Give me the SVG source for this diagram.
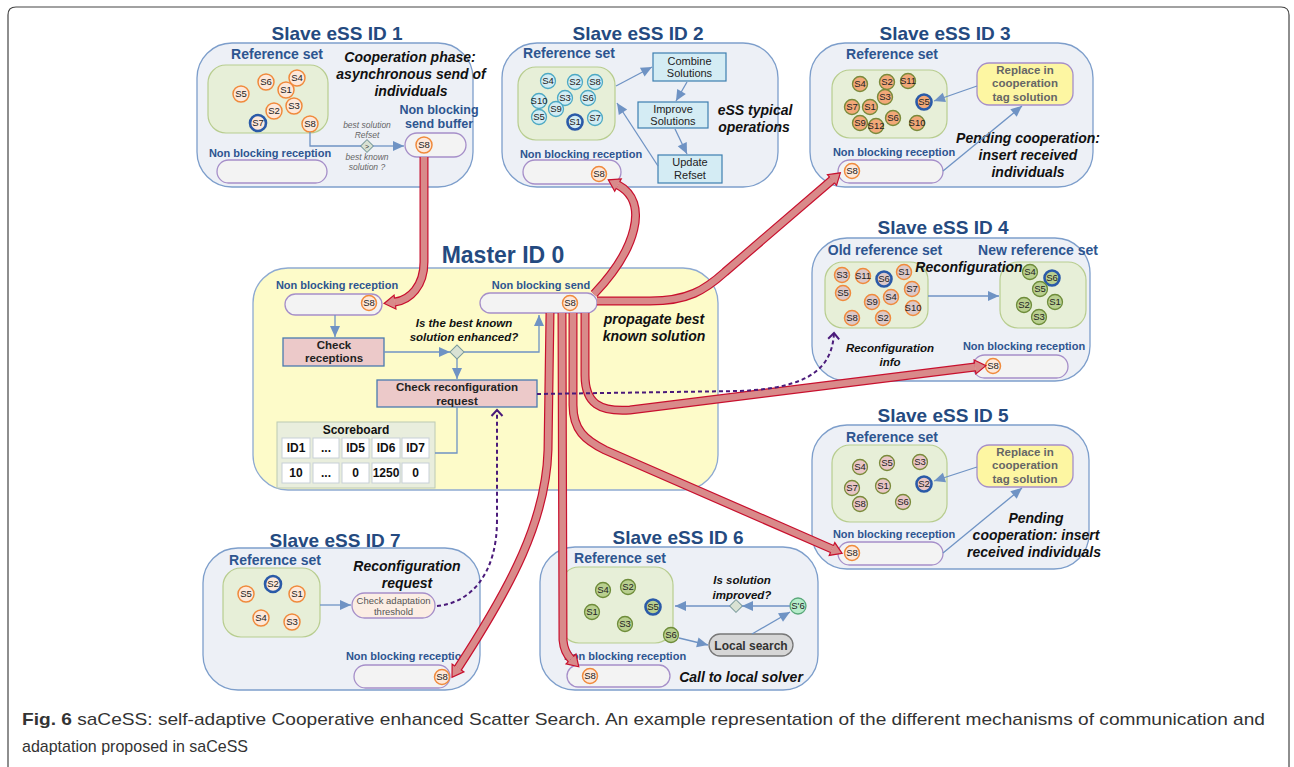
<svg xmlns="http://www.w3.org/2000/svg" width="1294" height="767" viewBox="0 0 1294 767">
<defs>
<marker id="tubeHead" markerUnits="userSpaceOnUse" markerWidth="16" markerHeight="18" viewBox="-2 -9 16 18" refX="0" refY="0" orient="auto" overflow="visible">
<path d="M0,-7 L11,0 L0,7 Z" fill="#d98a8a"/>
<path d="M0,-3.4 L0,-7 L11,0 L0,7 L0,3.4" fill="none" stroke="#c8102e" stroke-width="1.2"/>
</marker>
<marker id="chev" markerUnits="userSpaceOnUse" markerWidth="10" markerHeight="14" viewBox="-8 -7 10 14" refX="0" refY="0" orient="auto" overflow="visible">
<path d="M-6,-5.5 L0,0 L-6,5.5" fill="none" stroke="#4a1a7a" stroke-width="2"/>
</marker>
<marker id="tri" markerUnits="userSpaceOnUse" markerWidth="12" markerHeight="10" viewBox="-11 -5 12 10" refX="0" refY="0" orient="auto" overflow="visible">
<path d="M-11,-5 L0,0 L-11,5 Z" fill="#6f93c4"/>
</marker>
</defs>
<style>
text{font-family:"Liberation Sans",Arial,sans-serif}
.title{font-size:19px;font-weight:bold;fill:#244a80;text-anchor:middle}
.mtitle{font-size:23px;font-weight:bold;fill:#244a80;text-anchor:middle}
.lbl{font-size:14px;font-weight:bold;fill:#2d5590;text-anchor:middle}
.nb{font-size:11px;font-weight:bold;fill:#2d5590;text-anchor:middle}
.it{font-size:14px;font-weight:bold;font-style:italic;fill:#111;text-anchor:middle}
.its{font-size:11.5px;font-weight:bold;font-style:italic;fill:#111;text-anchor:middle}
.tiny{font-size:8.5px;font-style:italic;fill:#666;text-anchor:middle}
.slave{fill:#edf0f6;stroke:#7d9ecb;stroke-width:1.3}
.ref{fill:#e7efd8;stroke:#b8cd8f;stroke-width:1.2}
.pill{fill:#f3f3f3;stroke:#a68fc9;stroke-width:1.3}
.st{font-size:9.5px;fill:#222;text-anchor:middle}
.or{fill:#fde8da;stroke:#f08a3c;stroke-width:1.5}
.cy{fill:#d2ecf3;stroke:#4da9c4;stroke-width:1.3}
.dk{fill:#f2a878;stroke:#7a8a3a;stroke-width:1.4}
.pk{fill:#ddc9c9;stroke:#f08a3c;stroke-width:1.5}
.gr{fill:#b9cf8f;stroke:#6e8c3a;stroke-width:1.3}
.pr{fill:#e9c6c6;stroke:#7a8a3a;stroke-width:1.3}
.lg{fill:#b6ecca;stroke:#5aa87a;stroke-width:1.3}
.hl{stroke:#2a5aa8;stroke-width:2.6}
.box{fill:#d4ecf4;stroke:#3c7fb0;stroke-width:1.2}
.bt{font-size:11px;fill:#222;text-anchor:middle}
.yel{fill:#fdf6a2;stroke:#a68fc9;stroke-width:1.3}
.yt{font-size:11.5px;font-weight:bold;fill:#666;text-anchor:middle}
.pbox{fill:#ecc9c9;stroke:#4a7ab0;stroke-width:1.3}
.pt{font-size:11.5px;font-weight:bold;fill:#222;text-anchor:middle}
.dia{fill:#d9e2d3;stroke:#7a9a9a;stroke-width:1}
.cell{fill:#ffffff;stroke:#c8d0d8;stroke-width:1}
.ct{font-size:12px;font-weight:bold;fill:#111;text-anchor:middle}
.ln{fill:none;stroke:#6f93c4;stroke-width:1.3}
.tube-o{fill:none;stroke:#c8102e;stroke-width:9}
.tube-i{fill:none;stroke:#d98a8a;stroke-width:6.6}
.dash{fill:none;stroke:#4a1a7a;stroke-width:2;stroke-dasharray:4 3}
.cap{font-size:17px;fill:#333}
</style>

<path d="M8,767 L8,15 Q8,7 16,7 L1281,7 Q1289,7 1289,15 L1289,767" fill="none" stroke="#444" stroke-width="1.2"/>

<!-- Slave 1 -->
<g id="slave1">
<text class="title" x="337" y="40">Slave eSS ID 1</text>
<rect class="slave" x="197" y="43" width="276" height="144" rx="35"/>
<text class="lbl" x="277" y="59">Reference set</text>
<rect class="ref" x="208" y="65" width="120" height="68" rx="18"/>
<g>
<circle class="or" cx="266" cy="82" r="8"/><text class="st" x="266" y="85.3">S6</text>
<circle class="or" cx="297" cy="78" r="8"/><text class="st" x="297" y="81.3">S4</text>
<circle class="or" cx="241" cy="94" r="8"/><text class="st" x="241" y="97.3">S5</text>
<circle class="or" cx="286" cy="90" r="8"/><text class="st" x="286" y="93.3">S1</text>
<circle class="or" cx="274" cy="111" r="8"/><text class="st" x="274" y="114.3">S2</text>
<circle class="or" cx="294" cy="106" r="8"/><text class="st" x="294" y="109.3">S3</text>
<circle class="or hl" cx="258" cy="123" r="8"/><text class="st" x="258" y="126.3">S7</text>
<circle class="or" cx="310" cy="124" r="8"/><text class="st" x="310" y="127.3">S8</text>
</g>
<text class="it" x="410" y="62">Cooperation phase:</text>
<text class="it" x="411" y="79">asynchronous send of</text>
<text class="it" x="411" y="96">individuals</text>
<text class="lbl" x="439" y="114" style="font-size:12.5px">Non blocking</text>
<text class="lbl" x="439" y="128" style="font-size:12.5px">send buffer</text>
<rect class="pill" x="405" y="133" width="61" height="24" rx="12"/>
<circle class="or" cx="424" cy="145" r="8"/><text class="st" x="424" y="148.3">S8</text>
<text class="tiny" x="367" y="128">best solution</text>
<text class="tiny" x="367" y="138">Refset</text>
<rect class="dia" x="362.5" y="141.5" width="9" height="9" transform="rotate(45 367 146)"/>
<text x="367" y="148.5" style="font-size:7px;fill:#333;text-anchor:middle">&gt;</text>
<text class="tiny" x="367" y="160">best known</text>
<text class="tiny" x="367" y="170">solution ?</text>
<text class="nb" x="270" y="157">Non blocking reception</text>
<rect class="pill" x="217" y="160" width="110" height="23" rx="11.5"/>
</g>

<!-- Slave 2 -->
<g id="slave2">
<text class="title" x="638" y="40">Slave eSS ID 2</text>
<rect class="slave" x="502" y="43" width="276" height="144" rx="35"/>
<text class="lbl" x="569" y="58">Reference set</text>
<rect class="ref" x="518" y="67" width="97" height="73" rx="18"/>
<g>
<circle class="cy" cx="548" cy="81" r="7.5"/><text class="st" x="548" y="84.3">S4</text>
<circle class="cy" cx="575" cy="82" r="7.5"/><text class="st" x="575" y="85.3">S2</text>
<circle class="cy" cx="595" cy="82" r="7.5"/><text class="st" x="595" y="85.3">S8</text>
<circle class="cy" cx="539" cy="101" r="7.5"/><text class="st" x="539" y="104.3">S10</text>
<circle class="cy" cx="565" cy="98" r="7.5"/><text class="st" x="565" y="101.3">S3</text>
<circle class="cy" cx="588" cy="98" r="7.5"/><text class="st" x="588" y="101.3">S6</text>
<circle class="cy" cx="556" cy="109" r="7.5"/><text class="st" x="556" y="112.3">S9</text>
<circle class="cy" cx="539" cy="117" r="7.5"/><text class="st" x="539" y="120.3">S5</text>
<circle class="cy hl" cx="575" cy="122" r="7.5"/><text class="st" x="575" y="125.3">S1</text>
<circle class="cy" cx="595" cy="118" r="7.5"/><text class="st" x="595" y="121.3">S7</text>
</g>
<rect class="box" x="653" y="53" width="73" height="28"/>
<text class="bt" x="689.5" y="64.5">Combine</text>
<text class="bt" x="689.5" y="77">Solutions</text>
<rect class="box" x="638" y="102" width="70" height="26"/>
<text class="bt" x="673" y="113">Improve</text>
<text class="bt" x="673" y="125">Solutions</text>
<rect class="box" x="658" y="155" width="64" height="28"/>
<text class="bt" x="690" y="166">Update</text>
<text class="bt" x="690" y="179">Refset</text>
<text class="it" x="755" y="115">eSS typical</text>
<text class="it" x="754" y="132">operations</text>
<text class="nb" x="581" y="158">Non blocking reception</text>
<rect class="pill" x="523" y="160" width="98" height="24" rx="12"/>
<circle class="or" cx="599" cy="174" r="7.5"/><text class="st" x="599" y="177.3">S8</text>
</g>

<!-- Slave 3 -->
<g id="slave3">
<text class="title" x="945" y="40">Slave eSS ID 3</text>
<rect class="slave" x="810" y="43" width="283" height="144" rx="35"/>
<text class="lbl" x="892" y="59">Reference set</text>
<rect class="ref" x="832" y="70" width="115" height="68" rx="18"/>
<g>
<circle class="dk" cx="860" cy="84" r="7.5"/><text class="st" x="860" y="87.3">S4</text>
<circle class="dk" cx="887" cy="82" r="7.5"/><text class="st" x="887" y="85.3">S2</text>
<circle class="dk" cx="908" cy="81" r="7.5"/><text class="st" x="908" y="84.3">S11</text>
<circle class="dk" cx="885" cy="97" r="7.5"/><text class="st" x="885" y="100.3">S3</text>
<circle class="dk" cx="852" cy="107" r="7.5"/><text class="st" x="852" y="110.3">S7</text>
<circle class="dk" cx="870" cy="107" r="7.5"/><text class="st" x="870" y="110.3">S1</text>
<circle class="dk hl" cx="924" cy="102" r="7.5"/><text class="st" x="924" y="105.3">S5</text>
<circle class="dk" cx="860" cy="123" r="7.5"/><text class="st" x="860" y="126.3">S9</text>
<circle class="dk" cx="876" cy="126" r="7.5"/><text class="st" x="876" y="129.3">S12</text>
<circle class="dk" cx="893" cy="118" r="7.5"/><text class="st" x="893" y="121.3">S6</text>
<circle class="dk" cx="917" cy="123" r="7.5"/><text class="st" x="917" y="126.3">S10</text>
</g>
<rect class="yel" x="977" y="63" width="96" height="42" rx="12"/>
<text class="yt" x="1025" y="74">Replace in</text>
<text class="yt" x="1025" y="87">cooperation</text>
<text class="yt" x="1025" y="101">tag solution</text>
<text class="it" x="1028" y="143">Pending cooperation:</text>
<text class="it" x="1028" y="160">insert received</text>
<text class="it" x="1028" y="177">individuals</text>
<text class="nb" x="894" y="156">Non blocking reception</text>
<rect class="pill" x="838" y="160" width="105" height="23" rx="11.5"/>
<circle class="or" cx="852" cy="171" r="7.5"/><text class="st" x="852" y="174.3">S8</text>
</g>

<!-- Slave 4 -->
<g id="slave4">
<text class="title" x="943" y="234">Slave eSS ID 4</text>
<rect class="slave" x="812" y="238" width="278" height="143" rx="35"/>
<text class="lbl" x="885" y="255">Old reference set</text>
<text class="lbl" x="1038" y="255">New reference set</text>
<rect class="ref" x="825" y="262" width="103" height="66" rx="18"/>
<rect class="ref" x="1000" y="262" width="86" height="66" rx="18"/>
<g>
<circle class="pk" cx="842" cy="275" r="7.5"/><text class="st" x="842" y="278.3">S3</text>
<circle class="pk" cx="863" cy="276" r="7.5"/><text class="st" x="863" y="279.3">S11</text>
<circle class="pk hl" cx="884" cy="279" r="7.5"/><text class="st" x="884" y="282.3">S6</text>
<circle class="pk" cx="904" cy="272" r="7.5"/><text class="st" x="904" y="275.3">S1</text>
<circle class="pk" cx="843" cy="293" r="7.5"/><text class="st" x="843" y="296.3">S5</text>
<circle class="pk" cx="912" cy="289" r="7.5"/><text class="st" x="912" y="292.3">S7</text>
<circle class="pk" cx="872" cy="302" r="7.5"/><text class="st" x="872" y="305.3">S9</text>
<circle class="pk" cx="891" cy="297" r="7.5"/><text class="st" x="891" y="300.3">S4</text>
<circle class="pk" cx="913" cy="308" r="7.5"/><text class="st" x="913" y="311.3">S10</text>
<circle class="pk" cx="852" cy="318" r="7.5"/><text class="st" x="852" y="321.3">S8</text>
<circle class="pk" cx="883" cy="318" r="7.5"/><text class="st" x="883" y="321.3">S2</text>
</g>
<g>
<circle class="gr" cx="1030" cy="272" r="7.5"/><text class="st" x="1030" y="275.3">S4</text>
<circle class="gr hl" cx="1052" cy="278" r="7.5"/><text class="st" x="1052" y="281.3">S6</text>
<circle class="gr" cx="1040" cy="289" r="7.5"/><text class="st" x="1040" y="292.3">S5</text>
<circle class="gr" cx="1024" cy="305" r="7.5"/><text class="st" x="1024" y="308.3">S2</text>
<circle class="gr" cx="1055" cy="302" r="7.5"/><text class="st" x="1055" y="305.3">S1</text>
<circle class="gr" cx="1039" cy="317" r="7.5"/><text class="st" x="1039" y="320.3">S3</text>
</g>
<text class="it" x="969" y="272">Reconfiguration</text>
<text class="its" x="890" y="352">Reconfiguration</text>
<text class="its" x="890" y="366">info</text>
<text class="nb" x="1024" y="350">Non blocking reception</text>
<rect class="pill" x="973" y="355" width="95" height="23" rx="11.5"/>
<circle class="or" cx="993" cy="366" r="7.5"/><text class="st" x="993" y="369.3">S8</text>
</g>

<!-- Slave 5 -->
<g id="slave5">
<text class="title" x="943" y="422">Slave eSS ID 5</text>
<rect class="slave" x="812" y="425" width="277" height="144" rx="35"/>
<text class="lbl" x="892" y="442">Reference set</text>
<rect class="ref" x="832" y="445" width="115" height="77" rx="18"/>
<g>
<circle class="pr" cx="860" cy="467" r="7.5"/><text class="st" x="860" y="470.3">S4</text>
<circle class="pr" cx="887" cy="463" r="7.5"/><text class="st" x="887" y="466.3">S5</text>
<circle class="pr" cx="920" cy="462" r="7.5"/><text class="st" x="920" y="465.3">S3</text>
<circle class="pr" cx="852" cy="488" r="7.5"/><text class="st" x="852" y="491.3">S7</text>
<circle class="pr" cx="883" cy="486" r="7.5"/><text class="st" x="883" y="489.3">S1</text>
<circle class="pr hl" cx="924" cy="484" r="7.5"/><text class="st" x="924" y="487.3">S2</text>
<circle class="pr" cx="860" cy="504" r="7.5"/><text class="st" x="860" y="507.3">S8</text>
<circle class="pr" cx="903" cy="502" r="7.5"/><text class="st" x="903" y="505.3">S6</text>
</g>
<rect class="yel" x="977" y="445" width="96" height="42" rx="12"/>
<text class="yt" x="1025" y="456">Replace in</text>
<text class="yt" x="1025" y="469">cooperation</text>
<text class="yt" x="1025" y="483">tag solution</text>
<text class="it" x="1036" y="523">Pending</text>
<text class="it" x="1036" y="540">cooperation: insert</text>
<text class="it" x="1034" y="557">received individuals</text>
<text class="nb" x="894" y="538">Non blocking reception</text>
<rect class="pill" x="838" y="542" width="105" height="23" rx="11.5"/>
<circle class="or" cx="852" cy="553" r="7.5"/><text class="st" x="852" y="556.3">S8</text>
</g>

<!-- Slave 7 -->
<g id="slave7">
<text class="title" x="335" y="547">Slave eSS ID 7</text>
<rect class="slave" x="203" y="548" width="277" height="142" rx="35"/>
<text class="lbl" x="275" y="565">Reference set</text>
<rect class="ref" x="223" y="568" width="97" height="69" rx="18"/>
<g>
<circle class="or hl" cx="273" cy="584" r="8"/><text class="st" x="273" y="587.3">S2</text>
<circle class="or" cx="246" cy="594" r="8"/><text class="st" x="246" y="597.3">S5</text>
<circle class="or" cx="297" cy="594" r="8"/><text class="st" x="297" y="597.3">S1</text>
<circle class="or" cx="261" cy="618" r="8"/><text class="st" x="261" y="621.3">S4</text>
<circle class="or" cx="292" cy="622" r="8"/><text class="st" x="292" y="625.3">S3</text>
</g>
<text class="it" x="407" y="571">Reconfiguration</text>
<text class="it" x="407" y="588">request</text>
<rect x="352" y="593" width="83" height="25" rx="12.5" fill="#fbede4" stroke="#a68fc9" stroke-width="1.3"/>
<text x="393.5" y="604" style="font-size:9.5px;fill:#555;text-anchor:middle">Check adaptation</text>
<text x="393.5" y="615" style="font-size:9.5px;fill:#555;text-anchor:middle">threshold</text>
<text class="nb" x="407" y="660">Non blocking reception</text>
<rect class="pill" x="354" y="665" width="96" height="23" rx="11.5"/>
<circle class="or" cx="442" cy="677" r="7.5"/><text class="st" x="442" y="680.3">S8</text>
</g>

<!-- Slave 6 -->
<g id="slave6">
<text class="title" x="678" y="544">Slave eSS ID 6</text>
<rect class="slave" x="540" y="547" width="278" height="143" rx="35"/>
<text class="lbl" x="620" y="563">Reference set</text>
<rect class="ref" x="561" y="567" width="112" height="76" rx="18"/>
<g>
<circle class="gr" cx="603" cy="590" r="7.5"/><text class="st" x="603" y="593.3">S4</text>
<circle class="gr" cx="628" cy="587" r="7.5"/><text class="st" x="628" y="590.3">S2</text>
<circle class="gr" cx="592" cy="612" r="7.5"/><text class="st" x="592" y="615.3">S1</text>
<circle class="gr hl" cx="653" cy="607" r="7.5"/><text class="st" x="653" y="610.3">S5</text>
<circle class="gr" cx="625" cy="624" r="7.5"/><text class="st" x="625" y="627.3">S3</text>
<circle class="gr" cx="671" cy="635" r="7.5"/><text class="st" x="671" y="638.3">S6</text>
</g>
<circle class="lg" cx="798" cy="606" r="8"/><text class="st" x="798" y="609.3">S'6</text>
<rect class="dia" x="731.5" y="601.5" width="9" height="9" transform="rotate(45 736 606)"/>
<text class="its" x="742" y="584">Is solution</text>
<text class="its" x="742" y="599">improved?</text>
<rect x="709" y="634" width="84" height="22" rx="11" fill="#d6d6d6" stroke="#777" stroke-width="1.3"/>
<text x="751" y="649.5" style="font-size:12px;font-weight:bold;fill:#333;text-anchor:middle">Local search</text>
<text class="nb" x="625" y="660">Non blocking reception</text>
<rect class="pill" x="567" y="665" width="103" height="22" rx="11"/>
<circle class="or" cx="590" cy="676" r="7.5"/><text class="st" x="590" y="679.3">S8</text>
<text class="it" x="741" y="682">Call to local solver</text>
</g>

<!-- Master -->
<g id="master">
<text class="mtitle" x="503" y="263">Master ID 0</text>
<rect x="253" y="268" width="465" height="222" rx="35" fill="#fdfbc9" stroke="#8eaad2" stroke-width="1.3"/>
<text class="nb" x="337" y="289">Non blocking reception</text>
<rect class="pill" x="285" y="294" width="97" height="21" rx="10.5"/>
<circle class="or" cx="369" cy="303" r="7.5"/><text class="st" x="369" y="306.3">S8</text>
<text class="nb" x="541" y="289">Non blocking send</text>
<rect class="pill" x="480" y="293" width="117" height="20" rx="10"/>
<circle class="or" cx="570" cy="303" r="7.5"/><text class="st" x="570" y="306.3">S8</text>
<text class="it" x="654" y="324">propagate best</text>
<text class="it" x="654" y="341">known solution</text>
<text class="its" x="464" y="327">Is the best known</text>
<text class="its" x="464" y="341">solution enhanced?</text>
<rect class="pbox" x="283" y="338" width="101" height="28"/>
<text class="pt" x="334" y="349">Check</text>
<text class="pt" x="334" y="362">receptions</text>
<rect class="dia" x="452" y="347" width="10" height="10" transform="rotate(45 457 352)"/>
<rect class="pbox" x="377" y="380" width="160" height="27"/>
<text class="pt" x="457" y="391">Check reconfiguration</text>
<text class="pt" x="457" y="405">request</text>
<rect x="277" y="422" width="158" height="66" fill="#e9eedd" stroke="#bccab4" stroke-width="1"/>
<text class="ct" x="356" y="434">Scoreboard</text>
<rect class="cell" x="282" y="438" width="28" height="20"/>
<rect class="cell" x="313" y="438" width="26" height="20"/>
<rect class="cell" x="342" y="438" width="27" height="20"/>
<rect class="cell" x="372" y="438" width="28" height="20"/>
<rect class="cell" x="402" y="438" width="27" height="20"/>
<rect class="cell" x="282" y="463" width="28" height="20"/>
<rect class="cell" x="313" y="463" width="26" height="20"/>
<rect class="cell" x="342" y="463" width="27" height="20"/>
<rect class="cell" x="372" y="463" width="28" height="20"/>
<rect class="cell" x="402" y="463" width="27" height="20"/>
<text class="ct" x="296" y="452">ID1</text>
<text class="ct" x="326" y="452">...</text>
<text class="ct" x="355.5" y="452">ID5</text>
<text class="ct" x="386" y="452">ID6</text>
<text class="ct" x="415.5" y="452">ID7</text>
<text class="ct" x="296" y="477">10</text>
<text class="ct" x="326" y="477">...</text>
<text class="ct" x="355.5" y="477">0</text>
<text class="ct" x="386" y="477">1250</text>
<text class="ct" x="415.5" y="477">0</text>
</g>

<g id="connectors">
<path class="ln" d="M310,132 L310,146 L361,146"/>
<path class="ln" d="M373,146 L404,146" marker-end="url(#tri)"/>
<path class="ln" d="M616,86 L652,67" marker-end="url(#tri)"/>
<path class="ln" d="M687,82 L676,101" marker-end="url(#tri)"/>
<path class="ln" d="M675,129 L687,154" marker-end="url(#tri)"/>
<path class="ln" d="M658,166 L617,103" marker-end="url(#tri)"/>
<path class="ln" d="M977,86 L934,101" marker-end="url(#tri)"/>
<path class="ln" d="M943,171 L1022,106" marker-end="url(#tri)"/>
<path class="ln" d="M928,296 L999,296" marker-end="url(#tri)"/>
<path class="ln" d="M977,467 L934,481" marker-end="url(#tri)"/>
<path class="ln" d="M943,553 L1022,488" marker-end="url(#tri)"/>
<path class="ln" d="M320,605 L351,605" marker-end="url(#tri)"/>
<path class="ln" d="M790,606 L742,606" marker-end="url(#tri)"/>
<path class="ln" d="M730,606 L675,606" marker-end="url(#tri)"/>
<path class="ln" d="M679,638 L708,645" marker-end="url(#tri)"/>
<path class="ln" d="M752,634 L790,612" marker-end="url(#tri)"/>
<path class="ln" d="M335,315 L335,337" marker-end="url(#tri)"/>
<path class="ln" d="M384,352 L450,352" marker-end="url(#tri)"/>
<path class="ln" d="M464,352 L539,352 L539,315" marker-end="url(#tri)"/>
<path class="ln" d="M457,359 L457,379" marker-end="url(#tri)"/>
<path class="ln" d="M435,453 L457,453 L457,407"/>

<path class="tube-o" d="M424,157 L424,262 C424,286 410,300 395,302"/>
<path class="tube-i" d="M424,157 L424,262 C424,286 410,300 395,302" marker-end="url(#tubeHead)"/>
<path class="tube-o" d="M594,294 C636,250 650,202 618,185"/>
<path class="tube-i" d="M594,294 C636,250 650,202 618,185" marker-end="url(#tubeHead)"/>
<path class="tube-o" d="M597,301 L650,301 C688,301 705,290 725,272 L832,180"/>
<path class="tube-i" d="M597,301 L650,301 C688,301 705,290 725,272 L832,180" marker-end="url(#tubeHead)"/>
<path class="tube-o" d="M585,313 L585,375 C585,404 600,412 630,410 L975,367"/>
<path class="tube-i" d="M585,313 L585,375 C585,404 600,412 630,410 L975,367" marker-end="url(#tubeHead)"/>
<path class="tube-o" d="M573,313 L573,405 C573,430 585,440 605,450 L832,549"/>
<path class="tube-i" d="M573,313 L573,405 C573,430 585,440 605,450 L832,549" marker-end="url(#tubeHead)"/>
<path class="tube-o" d="M562,313 L563,640 Q564,652 571,659"/>
<path class="tube-i" d="M562,313 L563,640 Q564,652 571,659" marker-end="url(#tubeHead)"/>
<path class="tube-o" d="M550,313 L548,450 C546,520 512,585 458,668"/>
<path class="tube-i" d="M550,313 L548,450 C546,520 512,585 458,668" marker-end="url(#tubeHead)"/>

<path class="dash" d="M437,606 C470,603 497,575 497,520 L497,410" marker-end="url(#chev)"/>
<path class="dash" d="M537,394 L740,391 C810,388 832,368 834,333" marker-end="url(#chev)"/>
</g>

<text class="cap" x="22" y="725" textLength="1243" lengthAdjust="spacingAndGlyphs"><tspan font-weight="bold">Fig. 6</tspan> saCeSS: self-adaptive Cooperative enhanced Scatter Search. An example representation of the different mechanisms of communication and</text>
<text class="cap" x="22" y="752" textLength="226" lengthAdjust="spacingAndGlyphs">adaptation proposed in saCeSS</text>
</svg>
